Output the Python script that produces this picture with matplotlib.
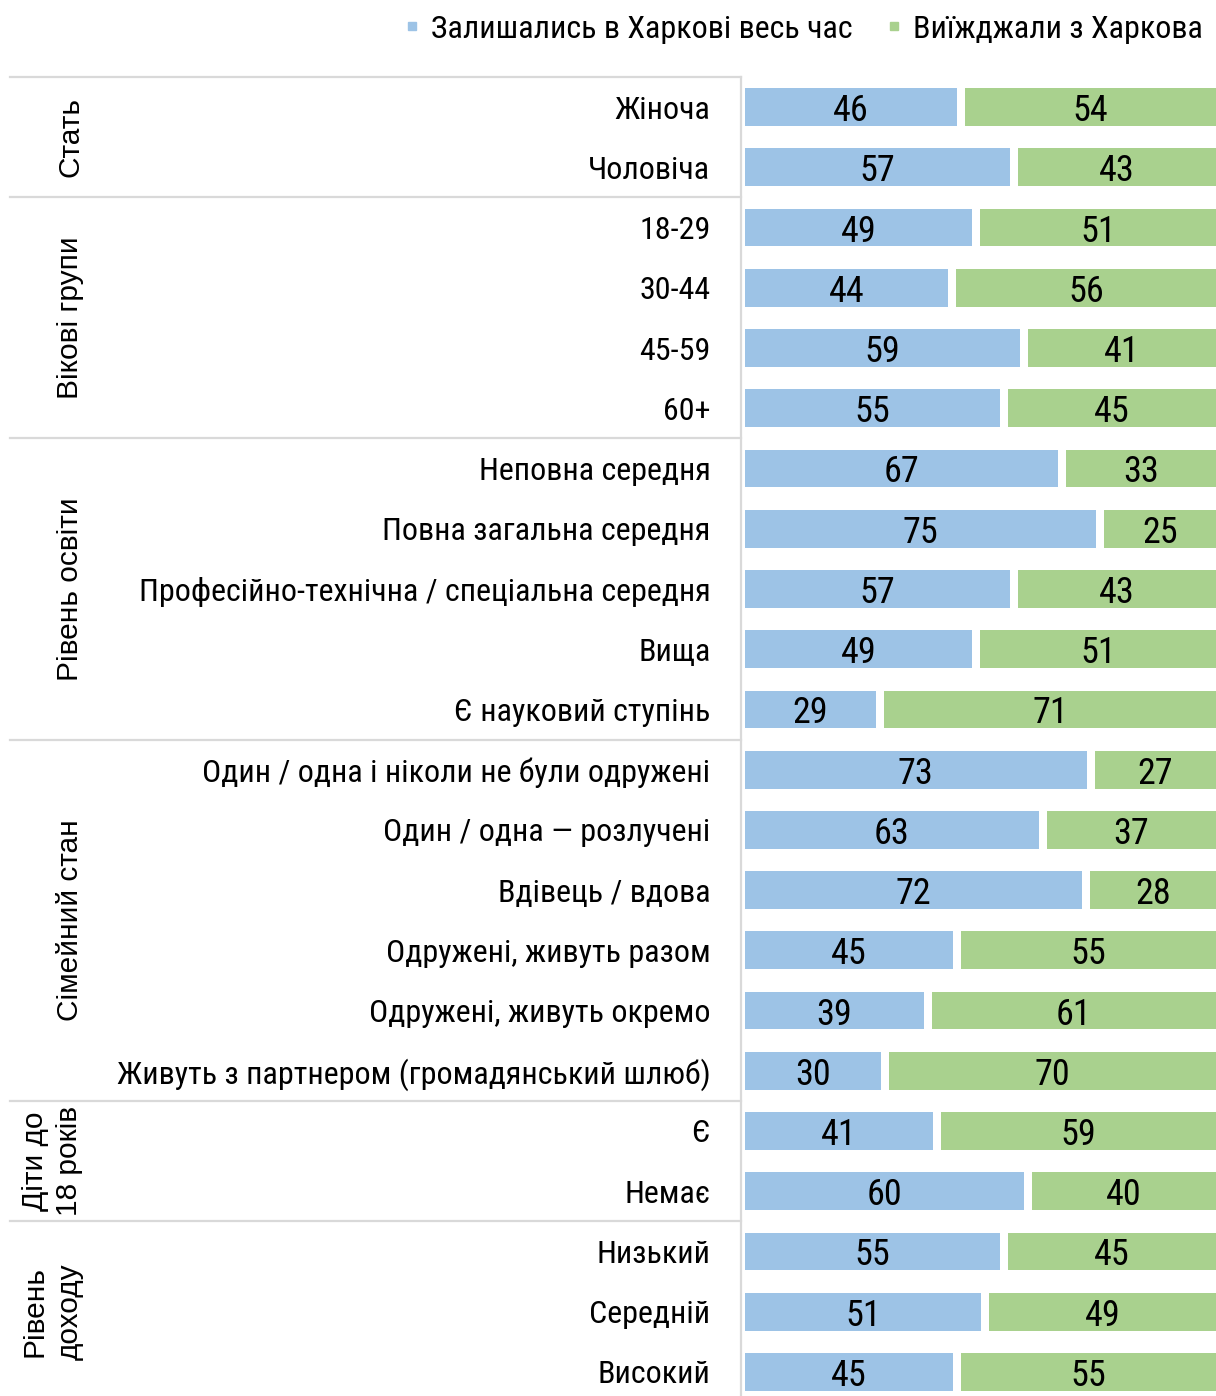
import matplotlib.pyplot as plt
from matplotlib.lines import Line2D
import numpy as np

# data
groups = ['Стать', 'Вікові групи', 'Рівень освіти', 'Сімейний стан', 'Діти до\n18 років', 'Рівень\nдоходу']
group_sizes = [2, 4, 5, 6, 2, 3]
categories = ['Жіноча', 'Чоловіча',
              '18-29', '30-44', '45-59', '60+',
              'Неповна середня', 'Повна загальна середня',
              'Професійно-технічна / спеціальна середня', 'Вища', 'Є науковий ступінь',
              'Один / одна і ніколи не були одружені', 'Один / одна — розлучені',
              'Вдівець / вдова', 'Одружені, живуть разом', 'Одружені, живуть окремо',
              'Живуть з партнером (громадянський шлюб)',
              'Є', 'Немає',
              'Низький', 'Середній', 'Високий']
stayed = [46, 57, 49, 44, 59, 55, 67, 75, 57, 49, 29, 73, 63, 72, 45, 39, 30, 41, 60, 55, 51, 45]
left_city = [54, 43, 51, 56, 41, 45, 33, 25, 43, 51, 71, 27, 37, 28, 55, 61, 70, 59, 40, 45, 49, 55]
series_names = ['Залишались в Харкові весь час', 'Виїжджали з Харкова']

BLUE = '#9dc3e6'
GREEN = '#a9d18e'
GRID = '#d9d9d9'
LABEL_FONT = ['Roboto Condensed', 'Roboto', 'DejaVu Sans']
GROUP_FONT = ['Liberation Sans', 'DejaVu Sans']

W, H = 1216, 1396
fig = plt.figure(figsize=(W / 100, H / 100), dpi=100)
ax = fig.add_axes([741 / W, 0, 479 / W, 1319 / H])

rows = np.arange(len(categories))
b1 = ax.barh(rows, stayed, height=0.76, color=BLUE, edgecolor='white', linewidth=5.76)
b2 = ax.barh(rows, left_city, left=stayed, height=0.76, color=GREEN, edgecolor='white', linewidth=5.76)
for cont in (b1, b2):
    labels = ax.bar_label(cont, label_type='center', fontsize=26, family=LABEL_FONT, color='black')
    for t in labels:
        t.set_va('center_baseline')

ax.set_xlim(0, 100)
ax.set_ylim(len(categories) - 0.6, -0.5)
ax.set_yticks(rows, categories, fontsize=23, family=LABEL_FONT)
ax.tick_params(axis='y', length=0, pad=22)
ax.set_xticks([])
for s in ax.spines.values():
    s.set_visible(False)

# group separators and labels
tr = ax.get_yaxis_transform()
x0 = (10 - 741) / 479
bounds = np.concatenate([[0], np.cumsum(group_sizes)]) - 0.5
for b in bounds:
    ax.plot([x0, 0], [b, b], color=GRID, lw=1.6, transform=tr, clip_on=False, zorder=3)
ax.plot([-0.001, -0.001], [-0.5, len(categories) - 0.6], color=GRID, lw=1.6,
        transform=tr, clip_on=False, zorder=3)

for g, lo, hi in zip(groups, bounds[:-1], bounds[1:]):
    xc = (52 - 741) / 479 if '\n' in g else (70 - 741) / 479
    ax.text(xc, (lo + hi) / 2, g, rotation=90, ha='center', va='center',
            multialignment='center', fontsize=21.5, family=GROUP_FONT,
            transform=tr, linespacing=1.3)

# legend
handles = [Line2D([], [], marker='s', linestyle='', markersize=6, color=c) for c in (BLUE, GREEN)]
fig.legend(handles, series_names, loc='center right', bbox_to_anchor=(1.0, 1 - 29 / H),
           ncol=2, frameon=False, prop={'family': LABEL_FONT, 'size': 23},
           handlelength=0.6, handletextpad=0.3, columnspacing=1.0, borderaxespad=0.0)

fig.savefig('out.png', dpi=100)
